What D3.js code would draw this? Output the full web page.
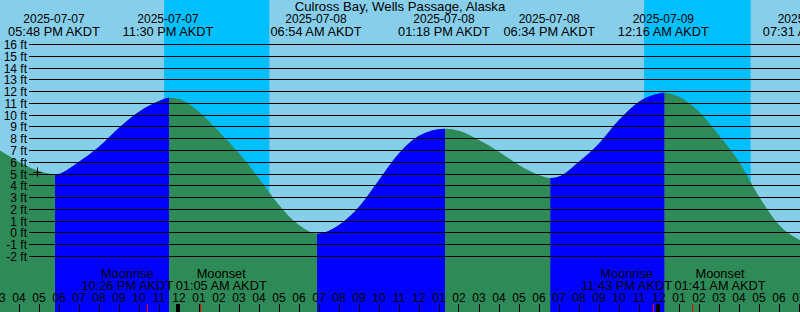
<!DOCTYPE html>
<html>
<head>
<meta charset="utf-8">
<script src="https://cdn.jsdelivr.net/npm/d3@7"></script>
<style>
  body { margin: 0; background: #fff; }
  svg { display: block; }
  text { font-family: "Liberation Sans", Arial, sans-serif; font-size: 12px; fill: #000; }
  text.word { font-size: 12.8px; }
  text.title { font-size: 13.2px; }
</style>
</head>
<body>
<div id="tideChart"></div>
<script>
// station + data
const title = "Culross Bay, Wells Passage, Alaska";

const tideTimes = [
  "2025-07-07 15:00", "2025-07-07 16:00", "2025-07-07 17:00", "2025-07-07 17:48",
  "2025-07-07 19:00", "2025-07-07 20:00", "2025-07-07 21:00", "2025-07-07 22:00",
  "2025-07-07 23:00", "2025-07-07 23:30", "2025-07-08 00:00", "2025-07-08 01:00",
  "2025-07-08 02:00", "2025-07-08 03:00", "2025-07-08 04:00", "2025-07-08 05:00",
  "2025-07-08 06:00", "2025-07-08 06:54", "2025-07-08 08:00", "2025-07-08 09:00",
  "2025-07-08 10:00", "2025-07-08 11:00", "2025-07-08 12:00", "2025-07-08 13:18",
  "2025-07-08 14:00", "2025-07-08 15:00", "2025-07-08 16:00", "2025-07-08 17:00",
  "2025-07-08 18:00", "2025-07-08 18:34", "2025-07-08 19:00", "2025-07-08 20:00",
  "2025-07-08 21:00", "2025-07-08 22:00", "2025-07-08 23:00", "2025-07-09 00:00",
  "2025-07-09 00:16", "2025-07-09 01:00", "2025-07-09 02:00", "2025-07-09 03:00",
  "2025-07-09 04:00", "2025-07-09 05:00", "2025-07-09 06:00", "2025-07-09 07:00",
  "2025-07-09 07:31"
];
const tideFeet = [
  7.05, 6.05, 5.25, 4.97,
  6.05, 7.32, 8.93, 10.29,
  11.2, 11.48, 11.37, 10.29,
  8.6, 6.76, 4.63, 2.38,
  0.67, -0.05, 0.68, 2.23,
  4.5, 6.76, 8.26, 8.85,
  8.68, 7.89, 6.9, 5.77,
  4.92, 4.67, 4.8, 6.05,
  7.6, 9.58, 11.14, 11.85,
  11.9, 11.56, 10.29, 8.3,
  6.05, 3.1, 0.7, -0.55,
  -0.85
];

const extremeTimes = ["2025-07-07 17:48", "2025-07-07 23:30", "2025-07-08 06:54",
  "2025-07-08 13:18", "2025-07-08 18:34", "2025-07-09 00:16", "2025-07-09 07:31"];
const extremeFeet = [4.97, 11.48, -0.05, 8.85, 4.67, 11.9, -0.85];

const nightStarts = ["2025-07-07 23:15", "2025-07-08 23:15"];
const nightEnds = ["2025-07-08 04:31", "2025-07-09 04:35"];

const moonriseTimes = ["2025-07-07 22:26", "2025-07-08 23:43"];
const moonsetTimes = ["2025-07-08 01:05", "2025-07-09 01:41"];

const footTicks = [-2, -1, 0, 1, 2, 3, 4, 5, 6, 7, 8, 9, 10, 11, 12, 13, 14, 15, 16];

const markTime = "2025-07-07 16:54";
const markFeet = 5.17;

const width = 800, height = 312;
const parse = d3.timeParse("%Y-%m-%d %H:%M");
const fmtDate = d3.timeFormat("%Y-%m-%d");
const fmtClock = d3.timeFormat("%I:%M %p AKDT");
const fmtHour = d3.timeFormat("%I");

const svg = d3.select("#tideChart").append("svg")
  .attr("width", width).attr("height", height);

const x = d3.scaleTime()
  .domain([parse("2025-07-07 15:00"), parse("2025-07-09 07:00")])
  .range([-1, 799]);
const y = d3.scaleLinear().domain([-2, 16]).range([256.5, 44.5]);
const crisp = v => Math.floor(v) + 0.5;

// sky: day then night bands
svg.append("rect").attr("width", width).attr("height", height).attr("fill", "#87CEEB");
svg.selectAll(".night").data(nightStarts).enter().append("rect")
  .attr("class", "night")
  .attr("x", (d, i) => x(parse(d)))
  .attr("width", (d, i) => x(parse(nightEnds[i])) - x(parse(d)))
  .attr("y", 0).attr("height", height)
  .attr("fill", "#00BFFF");

// water: green for ebb, blue for flood
const tide = tideTimes.map((t, i) => ({ t: parse(t), v: tideFeet[i] }));
const area = d3.area()
  .x(d => x(d.t)).y0(height).y1(d => y(d.v))
  .curve(d3.curveMonotoneX);

const defs = svg.append("defs");
const clip = defs.append("clipPath").attr("id", "flood");
extremeTimes.forEach((t, i) => {
  if (i < extremeTimes.length - 1 && extremeFeet[i] < extremeFeet[i + 1]) {
    clip.append("rect")
      .attr("x", x(parse(t)))
      .attr("width", x(parse(extremeTimes[i + 1])) - x(parse(t)))
      .attr("y", 0).attr("height", height);
  }
});

svg.append("path").datum(tide).attr("d", area).attr("fill", "#2E8B57");
svg.append("path").datum(tide).attr("d", area).attr("fill", "#0000FF")
  .attr("clip-path", "url(#flood)");

// feet grid + labels
svg.selectAll(".grid").data(footTicks).enter().append("line")
  .attr("class", "grid")
  .attr("x1", 29).attr("x2", width)
  .attr("y1", d => crisp(y(d))).attr("y2", d => crisp(y(d)))
  .attr("stroke", "#000").attr("stroke-width", 1);
svg.selectAll(".ftlab").data(footTicks).enter().append("text")
  .attr("class", "ftlab")
  .attr("x", 27).attr("y", d => crisp(y(d)) + 4)
  .attr("text-anchor", "end")
  .text(d => d + " ft");

// mark
const mx = crisp(x(parse(markTime))), my = crisp(y(markFeet));
svg.append("path")
  .attr("d", `M${mx - 4},${my}H${mx + 4}M${mx},${my - 5}V${my + 4}`)
  .attr("stroke", "#000").attr("fill", "none");

// title + high/low labels
svg.append("text").attr("class", "title").attr("x", width / 2).attr("y", 11)
  .attr("text-anchor", "middle").text(title);
extremeTimes.forEach(t => {
  const d = parse(t), cx = x(d) - 1;
  svg.append("text").attr("x", cx).attr("y", 23).attr("text-anchor", "middle").text(fmtDate(d));
  svg.append("text").attr("class", "word").attr("x", cx).attr("y", 36)
    .attr("text-anchor", "middle").text(fmtClock(d));
});

// hour ticks along the bottom
const hours = d3.timeHour.range(x.domain()[0], d3.timeHour.offset(x.domain()[1], 1));
svg.selectAll(".htick").data(hours).enter().append("line")
  .attr("class", "htick")
  .attr("x1", d => crisp(x(d))).attr("x2", d => crisp(x(d)))
  .attr("y1", 304).attr("y2", height)
  .attr("stroke", "#000");
svg.selectAll(".hlab").data(hours).enter().append("text")
  .attr("class", "hlab")
  .attr("x", d => x(d)).attr("y", 302)
  .attr("text-anchor", "middle")
  .text(d => fmtHour(d));

// day boundaries
svg.selectAll(".midnight").data(d3.timeDay.range(x.domain()[0], x.domain()[1])).enter().append("rect")
  .attr("class", "midnight")
  .attr("x", d => Math.round(x(d)) - 3).attr("width", 3)
  .attr("y", 304).attr("height", 8)
  .attr("fill", "#000");

// moon events
const moonLabel = (d, name, edge, side) => {
  const g = svg.append("g");
  const t1 = g.append("text").attr("class", "word").attr("y", 277.5).attr("text-anchor", "middle").text(name);
  const t2 = g.append("text").attr("class", "word").attr("y", 290).attr("text-anchor", "middle").text(fmtClock(d));
  const w = Math.max(t1.node().getComputedTextLength(), t2.node().getComputedTextLength());
  const cx = side < 0 ? edge - w / 2 : edge + w / 2;
  t1.attr("x", cx); t2.attr("x", cx);
};
moonriseTimes.forEach((t, i) => {
  const rise = parse(t), set = parse(moonsetTimes[i]);
  [rise, set].forEach(d => {
    svg.append("line")
      .attr("x1", crisp(x(d))).attr("x2", crisp(x(d)))
      .attr("y1", 304).attr("y2", height)
      .attr("stroke", "#FF0000");
  });
  const mid = (x(rise) + x(set)) / 2;
  moonLabel(rise, "Moonrise", mid - 1, -1);
  moonLabel(set, "Moonset", mid + 1.5, 1);
});
</script>
</body>
</html>
